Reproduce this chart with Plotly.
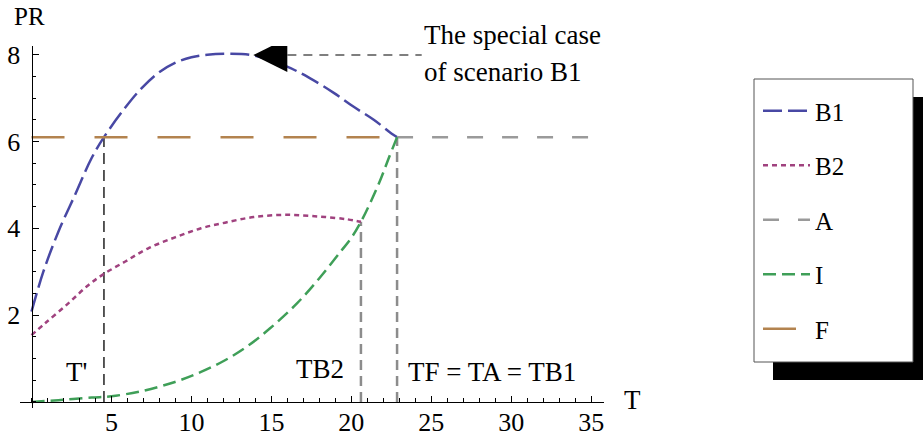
import plotly.graph_objects as go

# ---- data ----
b1_t = [0.0, 0.74, 1.68, 2.72, 3.76, 4.53, 5.84, 6.89, 7.93, 8.97, 10.0, 11.0, 12.3, 13.9, 15.95, 17.4, 18.9, 20.1, 21.4, 22.6, 22.86]
b1_pr = [2.08, 3.0, 3.92, 4.77, 5.62, 6.10, 6.77, 7.23, 7.58, 7.81, 7.94, 8.0, 8.02, 7.98, 7.73, 7.46, 7.12, 6.81, 6.50, 6.16, 6.10]

b2_t = [0.0, 0.84, 2.3, 3.55, 4.53, 5.84, 7.3, 8.97, 10.6, 12.1, 13.9, 15.95, 18.0, 19.7, 20.6]
b2_pr = [1.54, 1.81, 2.27, 2.69, 2.95, 3.23, 3.54, 3.79, 4.0, 4.13, 4.26, 4.31, 4.27, 4.21, 4.15]

i_t = [0.0, 1.68, 3.76, 5.0, 6.9, 8.97, 10.6, 12.1, 13.45, 14.9, 16.6, 18.0, 19.3, 20.0, 20.6, 21.2, 21.8, 22.3, 22.86]
i_pr = [0.0, 0.04, 0.10, 0.13, 0.25, 0.46, 0.69, 0.96, 1.27, 1.69, 2.27, 2.85, 3.45, 3.78, 4.15, 4.6, 5.1, 5.58, 6.10]

F_level = 6.10
T_prime = 4.53
T_B2 = 20.6
T_F = 22.86
T_end = 35.0
B2_end = 4.15
special_t = 13.87
special_pr = 7.99
arrow_base_t = 16.0
note_t = 24.4

x_tickvals = [5, 10, 15, 20, 25, 30, 35]
y_tickvals = [2, 4, 6, 8]

FONT = "Liberation Serif"
FS = 26
FS_ANN = 27
FS_LEG = 25

fig = go.Figure()

# helper vertical lines (no legend)
fig.add_trace(go.Scatter(x=[T_prime, T_prime], y=[0, F_level], mode="lines",
                         line=dict(color="#222222", width=1.5, dash="11px,6px"),
                         showlegend=False, hoverinfo="skip"))
fig.add_trace(go.Scatter(x=[T_B2, T_B2], y=[0, B2_end], mode="lines",
                         line=dict(color="#8c8c8c", width=2.5, dash="10px,6px"),
                         showlegend=False, hoverinfo="skip"))
fig.add_trace(go.Scatter(x=[T_F, T_F], y=[0, F_level], mode="lines",
                         line=dict(color="#8c8c8c", width=2.5, dash="10px,6px"),
                         showlegend=False, hoverinfo="skip"))
# arrow dashed stem
fig.add_trace(go.Scatter(x=[arrow_base_t, note_t], y=[special_pr, special_pr], mode="lines",
                         line=dict(color="#555555", width=1.5, dash="9px,7px"),
                         showlegend=False, hoverinfo="skip"))

# main series
fig.add_trace(go.Scatter(x=b1_t, y=b1_pr, mode="lines", name="B1", legendgroup="B1",
                         line=dict(color="#4848a4", width=2.5, dash="19px,6px", shape="spline")))
fig.add_trace(go.Scatter(x=b2_t, y=b2_pr, mode="lines", name="B2", legendgroup="B2",
                         line=dict(color="#a0427f", width=2.5, dash="5px,4px", shape="spline")))
fig.add_trace(go.Scatter(x=[T_F, T_end], y=[F_level, F_level], mode="lines", name="A", legendgroup="A",
                         line=dict(color="#9a9a9a", width=2.5, dash="16px,19px")))
fig.add_trace(go.Scatter(x=i_t, y=i_pr, mode="lines", name="I", legendgroup="I",
                         line=dict(color="#3f9f58", width=2.5, dash="13px,6px", shape="spline")))
fig.add_trace(go.Scatter(x=[0, T_F], y=[F_level, F_level], mode="lines", name="F", legendgroup="F",
                         line=dict(color="#b3834f", width=2.5, dash="33px,30px")))

# arrowhead pointing at the special case on B1
fig.add_trace(go.Scatter(x=[special_t], y=[special_pr], mode="markers", showlegend=False,
                         hoverinfo="skip",
                         marker=dict(symbol="arrow-left", size=34, color="black",
                                     line=dict(width=0))))

# plot area geometry
L, R, T, B = 20, 319, 46, 30
W, H = 923, 438
pw, ph = W - L - R, H - T - B
xr = [-0.72, 35.8]
yr = [-0.14, 8.2]

def px2paper_x(px):
    return (px - L) / pw

def py2paper_y(py):
    return (H - B - py) / ph

# legend box + shadow
fig.add_shape(type="rect", xref="paper", yref="paper",
              x0=px2paper_x(773), x1=px2paper_x(923), y0=py2paper_y(380), y1=py2paper_y(97),
              fillcolor="black", line=dict(width=0), layer="above")
fig.add_shape(type="rect", xref="paper", yref="paper",
              x0=px2paper_x(754), x1=px2paper_x(913), y0=py2paper_y(362), y1=py2paper_y(79),
              fillcolor="white", line=dict(color="#555555", width=1), layer="above")

ann_font = dict(family=FONT, size=FS_ANN, color="black")
annotations = [
    dict(x=note_t, y=py2paper_y(35), xref="x", yref="paper", text="The special case",
         showarrow=False, xanchor="left", yanchor="middle", font=ann_font),
    dict(x=note_t, y=py2paper_y(72), xref="x", yref="paper", text="of scenario B1",
         showarrow=False, xanchor="left", yanchor="middle", font=ann_font),
    dict(x=2.83, y=0.69, xref="x", yref="y", text="T'", showarrow=False, font=ann_font,
         xanchor="center", yanchor="middle"),
    dict(x=18.06, y=0.75, xref="x", yref="y", text="TB2", showarrow=False, font=ann_font,
         xanchor="center", yanchor="middle"),
    dict(x=28.8, y=0.70, xref="x", yref="y", text="TF = TA = TB1", showarrow=False, font=ann_font,
         xanchor="center", yanchor="middle"),
    dict(x=px2paper_x(29), y=py2paper_y(16), xref="paper", yref="paper", text="PR",
         showarrow=False, xanchor="center", yanchor="middle",
         font=dict(family=FONT, size=25, color="black")),
    dict(x=px2paper_x(632), y=py2paper_y(400), xref="paper", yref="paper", text="T",
         showarrow=False, xanchor="center", yanchor="middle", font=ann_font),
]

x0_paper = (0 - xr[0]) / (xr[1] - xr[0])
y0_paper = (0 - yr[0]) / (yr[1] - yr[0])

fig.update_layout(
    width=W, height=H,
    margin=dict(l=L, r=R, t=T, b=B, pad=0, autoexpand=False),
    paper_bgcolor="white", plot_bgcolor="white",
    font=dict(family=FONT, size=FS, color="black"),
    annotations=annotations,
    legend=dict(x=px2paper_x(758), y=py2paper_y(88), xanchor="left", yanchor="top",
                bgcolor="rgba(0,0,0,0)", borderwidth=0, itemwidth=47,
                tracegroupgap=19, font=dict(family=FONT, size=FS_LEG, color="black"),
                itemclick=False),
    xaxis=dict(range=xr, showgrid=False, zeroline=False, showline=True, linecolor="black",
               linewidth=1, anchor="free", position=y0_paper, automargin=False,
               tickvals=x_tickvals, ticktext=[str(v) for v in x_tickvals],
               ticks="inside", ticklen=6, tickcolor="black", tickwidth=1,
               ticklabelstandoff=-3, ticklabeloverflow="allow",
               minor=dict(dtick=1, tick0=0, ticks="inside", ticklen=3.5, tickcolor="black"),
               tickfont=dict(family=FONT, size=FS, color="black")),
    yaxis=dict(range=yr, showgrid=False, zeroline=False, showline=True, linecolor="black",
               linewidth=1, anchor="free", position=x0_paper, automargin=False,
               tickvals=y_tickvals, ticktext=[str(v) for v in y_tickvals],
               ticks="inside", ticklen=6, tickcolor="black", tickwidth=1,
               ticklabelstandoff=6, ticklabeloverflow="allow",
               minor=dict(dtick=0.5, tick0=0, ticks="inside", ticklen=3.5, tickcolor="black"),
               tickfont=dict(family=FONT, size=FS, color="black")),
)

fig.write_html("out.html", config={"displayModeBar": False},
               post_script="document.body.style.margin='0';document.body.style.overflow='hidden';")
